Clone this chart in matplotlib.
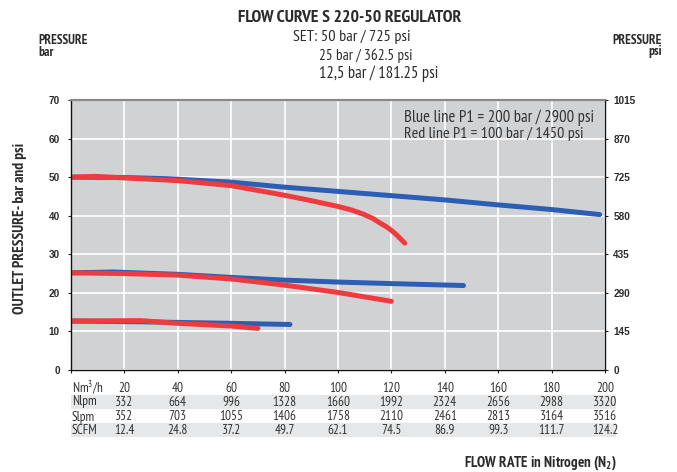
import matplotlib
matplotlib.use("Agg")
import matplotlib.pyplot as plt
from matplotlib import font_manager

names = {f.name for f in font_manager.fontManager.ttflist}
COND = next(n for n in ['PT Sans Narrow', 'Asap Condensed', 'Archivo Narrow', 'Roboto Condensed',
                        'Fira Sans Condensed', 'DejaVu Sans'] if n in names or n == 'DejaVu Sans')
TICKF = 'Liberation Sans' if 'Liberation Sans' in names else 'DejaVu Sans'
plt.rcParams['font.family'] = [COND, 'DejaVu Sans']
plt.rcParams['mathtext.fontset'] = 'custom'
plt.rcParams['mathtext.rm'] = COND
plt.rcParams['mathtext.bf'] = COND + ':bold'

# ---- data ----
blue50_x = [0, 20, 36, 60, 80, 100, 120, 140, 160, 180, 198]
blue50_y = [50, 49.9, 49.6, 48.7, 47.4, 46.3, 45.2, 44.1, 42.8, 41.6, 40.3]
red50_x = [0, 9, 20, 40, 60, 80, 90, 100, 105, 109.5, 113, 116, 118, 120, 122, 125]
red50_y = [50, 50.2, 49.8, 49.1, 47.8, 45.3, 43.9, 42.4, 41.5, 40.4, 39.3, 38.0, 37.2, 36.2, 35.0, 32.9]
blue25_x = [0, 16, 40, 60, 80, 100, 120, 147]
blue25_y = [25.2, 25.4, 24.8, 24.0, 23.3, 22.8, 22.4, 21.9]
red25_x = [0, 20, 40, 60, 80, 100, 120]
red25_y = [25.2, 25.0, 24.6, 23.6, 22.0, 20.1, 17.8]
blue12_x = [0, 26, 60, 82]
blue12_y = [12.7, 12.5, 12.1, 11.8]
red12_x = [0, 26, 40, 60, 70]
red12_y = [12.7, 12.8, 12.1, 11.4, 10.8]

flow_nm3h = [20, 40, 60, 80, 100, 120, 140, 160, 180, 200]
nlpm = ['332', '664', '996', '1328', '1660', '1992', '2324', '2656', '2988', '3320']
slpm = ['352', '703', '1055', '1406', '1758', '2110', '2461', '2813', '3164', '3516']
scfm = ['12.4', '24.8', '37.2', '49.7', '62.1', '74.5', '86.9', '99.3', '111.7', '124.2']
row_labels = ['Nm$^3$/h', 'Nlpm', 'Slpm', 'SCFM']
bar_ticks = [0, 10, 20, 30, 40, 50, 60, 70]
psi_ticks = [0, 145, 290, 435, 580, 725, 870, 1015]

BLUE = '#2c5fb4'
RED = '#ef3b3f'
TXT = '#2b2b2b'

fig = plt.figure(figsize=(6.77, 4.72), dpi=100)
W, H = 677, 472
left, right, top, bottom = 71, 605, 100, 370
ax = fig.add_axes([left / W, 1 - bottom / H, (right - left) / W, (bottom - top) / H])
ax.set_facecolor('#d1d2d4')
ax.set_xlim(0, 200)
ax.set_ylim(0, 70)
ax.set_xticks(range(0, 201, 20))
ax.set_xticklabels([])
ax.set_yticks(bar_ticks)
ax.set_yticklabels([str(v) for v in bar_ticks], fontweight='bold', fontsize=7.2, family=TICKF, color=TXT)
ax.grid(True, color='white', linewidth=1.2)
ax.set_axisbelow(True)
ax.tick_params(axis='both', length=2.5, width=0.8, color='#222222')
ax.tick_params(axis='y', pad=5.5)
for s in ['left', 'bottom', 'right']:
    ax.spines[s].set_color('#111111')
    ax.spines[s].set_linewidth(1.0)
ax.spines['top'].set_color('#8a8a8a')
ax.spines['top'].set_linewidth(1.6)

kw = dict(linewidth=3.6, solid_capstyle='round', solid_joinstyle='round')
ax.plot(blue50_x, blue50_y, color=BLUE, **kw)
ax.plot(blue25_x, blue25_y, color=BLUE, **kw)
ax.plot(blue12_x, blue12_y, color=BLUE, **kw)
ax.plot(red50_x, red50_y, color=RED, **kw)
ax.plot(red25_x, red25_y, color=RED, **kw)
ax.plot(red12_x, red12_y, color=RED, **kw)

ax2 = ax.twinx()
ax2.set_ylim(0, 1015)
ax2.set_yticks(psi_ticks)
ax2.set_yticklabels([str(v) for v in psi_ticks], fontweight='bold', fontsize=7.2, family=TICKF, color=TXT)
ax2.tick_params(axis='y', length=2.5, width=0.8, color='#222222', pad=3.5)
for s in ax2.spines.values():
    s.set_visible(False)

fig.canvas.draw()
R = fig.canvas.get_renderer()


def fit(t, width_px, vertical=False):
    bb = t.get_window_extent(R)
    cur = bb.height if vertical else bb.width
    t.set_fontsize(t.get_fontsize() * width_px / cur)
    return t


def ftext(x, y, s, **k):
    k.setdefault('color', TXT)
    return fig.text(x / W, 1 - y / H, s, **k)


fit(ftext(404, 118, 'Blue line P1 = 200 bar / 2900 psi', fontsize=11, ha='left', va='center', color='#333333'), 190)
fit(ftext(404, 133.5, 'Red line P1 = 100 bar / 1450 psi', fontsize=11, ha='left', va='center', color='#333333'), 180)

fit(ftext(350, 18, 'FLOW CURVE S 220-50 REGULATOR', fontsize=11.5, fontweight='bold', ha='center', va='center'), 225)
fit(ftext(293, 37, 'SET: 50 bar / 725 psi', fontsize=11, ha='left', va='center'), 117)
fit(ftext(319, 56, '25 bar / 362.5 psi', fontsize=11, ha='left', va='center'), 93)
fit(ftext(319, 74, '12,5 bar / 181.25 psi', fontsize=11, ha='left', va='center'), 120)
p1 = fit(ftext(38, 40, 'PRESSURE', fontsize=8, fontweight='bold', ha='left', va='center'), 50)
ftext(38, 52, 'bar', fontsize=p1.get_fontsize(), fontweight='bold', ha='left', va='center')
fit(ftext(662, 40, 'PRESSURE', fontsize=8, fontweight='bold', ha='right', va='center'), 50)
ftext(662, 52, 'psi', fontsize=p1.get_fontsize(), fontweight='bold', ha='right', va='center')
fit(ftext(20.5, 228, 'OUTLET PRESSURE- bar and psi', fontsize=9, fontweight='bold', rotation=90,
          ha='center', va='center'), 171, vertical=True)
fit(ftext(617, 463, r'FLOW RATE in Nitrogen (N$_\mathbf{2}$)', fontsize=9.5, fontweight='bold',
          ha='right', va='center'), 154)

# table below axes
TFS = 9.5
rows = [[str(v) for v in flow_nm3h], nlpm, slpm, scfm]
row_y = [388, 402, 417, 430]
for i, (lab, vals, yp) in enumerate(zip(row_labels, rows, row_y)):
    if i % 2 == 1:
        fig.patches.append(plt.Rectangle((71 / W, 1 - (yp + 7) / H), (616 - 71) / W, 14 / H,
                                         transform=fig.transFigure, facecolor='#e6e7e8',
                                         edgecolor='none', zorder=0))
    ftext(72, yp, lab, fontsize=TFS, ha='left', va='center', color='#333333')
    for xv, v in zip(flow_nm3h, vals):
        xp = ax.transData.transform((xv, 0))[0]
        ftext(xp, yp, v, fontsize=TFS, ha='center', va='center', color='#333333')

fig.savefig('out.png', dpi=100)
